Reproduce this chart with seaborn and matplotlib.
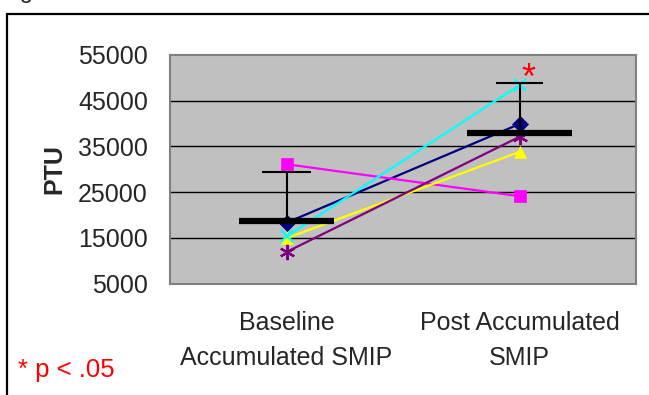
import pandas as pd
import matplotlib
matplotlib.use('Agg')
import matplotlib.pyplot as plt
import seaborn as sns
from matplotlib.patches import Rectangle

# Data
conditions = ['Baseline\nAccumulated SMIP', 'Post Accumulated\nSMIP']
subjects = ['S1', 'S2', 'S3', 'S4', 'S5']
baseline = [18300, 31100, 14900, 15300, 11900]
post = [39900, 24100, 33800, 48400, 37100]
group_mean = [18700, 37900]
group_sd = [10800, 10900]
yticks = [5000, 15000, 25000, 35000, 45000, 55000]

# Style per subject (colour, marker)
colors = ['#000080', '#FF00FF', '#FFFF00', '#00FFFF', '#800080']
markers = ['D', 's', '^', 'x', (6, 2, 0)]
msizes = [8, 8, 9, 9, 11]

# Long format table
rows = []
for i, s in enumerate(subjects):
    rows.append({'subject': s, 'cond': 0, 'PTU': baseline[i]})
    rows.append({'subject': s, 'cond': 1, 'PTU': post[i]})
df = pd.DataFrame(rows)

sns.set_style('white')
plt.rcParams['font.family'] = ['Liberation Sans', 'DejaVu Sans']

fig = plt.figure(figsize=(6.49, 3.95), dpi=100)
ax = fig.add_axes([170 / 649, (395 - 283.5) / 395, 466 / 649, 228.5 / 395])
ax.set_facecolor('#C0C0C0')

# grid lines
for y in yticks[1:-1]:
    ax.axhline(y, color='black', lw=1, zorder=1)

# subject lines
for i, s in enumerate(subjects):
    sub = df[df['subject'] == s]
    sns.lineplot(data=sub, x='cond', y='PTU', ax=ax, color=colors[i],
                 marker=markers[i], markersize=msizes[i], lw=1.6,
                 markeredgecolor=colors[i], markeredgewidth=1.6 if i > 2 else 0.5,
                 zorder=3)

# mean bars and error bars
bar_half = [0.205, 0.227]
cap_half = [0.105, 0.1]
for j in range(2):
    ax.vlines(j, group_mean[j], group_mean[j] + group_sd[j], color='black', lw=1.5, zorder=4)
    ax.hlines(group_mean[j] + group_sd[j], j - cap_half[j], j + cap_half[j], color='black', lw=1.5, zorder=4)
    ax.hlines(group_mean[j], j - bar_half[j], j + bar_half[j], color='black', lw=4.5, zorder=5)

# significance star
ax.text(1.04, 49700, '*', color='red', fontsize=26, ha='center', va='center')

ax.set_xlim(-0.5, 1.5)
ax.set_ylim(5000, 55000)
ax.set_yticks(yticks)
ax.set_xticks([0, 1])
ax.set_xticklabels(conditions, fontsize=18, linespacing=1.55)
ax.set_xticks([-0.5, 0.5, 1.5], minor=True)
ax.tick_params(axis='x', which='major', length=0, pad=20)
ax.tick_params(axis='x', which='minor', length=7, width=1, color='black', direction='out')
ax.tick_params(axis='y', length=7, width=1, color='black', direction='out', pad=9, labelsize=18)
ax.set_xlabel('')
ax.set_ylabel('PTU', fontsize=18, fontweight='bold', labelpad=8)

for sp in ax.spines.values():
    sp.set_color('#808080')
    sp.set_linewidth(1.5)

# outer frame and notes
fig.add_artist(Rectangle((7 / 649, -0.5), 2, 1.5 - 14 / 395, transform=fig.transFigure,
                         fill=False, edgecolor='black', lw=1.6, clip_on=False))
fig.text(0.0, 397 / 395, 'Fig', fontsize=17, va='baseline', ha='left')
fig.text(18 / 649, (395 - 377) / 395, '* p < .05', color='red', fontsize=18.5, va='baseline', ha='left')

plt.savefig('out.png', dpi=100)
